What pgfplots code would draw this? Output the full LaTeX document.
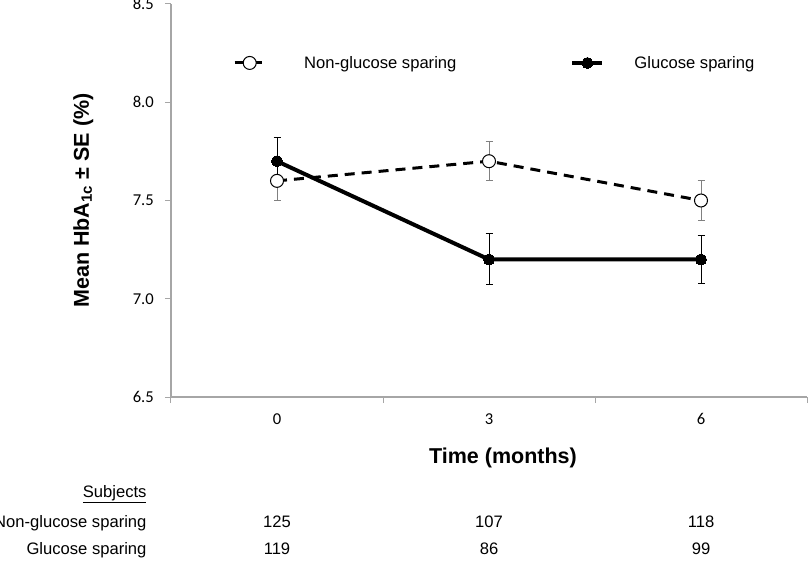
\documentclass[border=0pt]{standalone}
\usepackage{fontspec}
\setmainfont{Liberation Sans}
\newfontfamily\calibri{Carlito}
\usepackage{pgfplots}
\pgfplotsset{compat=1.18}
\definecolor{axisgray}{RGB}{166,166,166}
\definecolor{errgray}{RGB}{128,128,128}

\pgfplotstableread{
x y e
0 7.60 0.10
1 7.70 0.10
2 7.50 0.10
}\nongluc
\pgfplotstableread{
x y e
0 7.70 0.12
1 7.20 0.13
2 7.20 0.12
}\gluc

\begin{document}
\begin{tikzpicture}
\useasboundingbox (-171pt,-163pt) rectangle (639pt,397pt);
\begin{axis}[
  at={(0pt,0pt)}, anchor=south west,
  scale only axis, width=636pt, height=393pt,
  xmin=-0.5, xmax=2.5, ymin=6.5, ymax=8.5,
  clip=false,
  axis x line*=bottom, axis y line*=left,
  axis line style={axisgray, line width=1.3pt},
  every tick/.style={axisgray, line width=1pt},
  tick align=outside,
  major tick length=6pt,
  xtick={-0.5,0.5,1.5,2.5}, xticklabels={},
  extra x ticks={0,1,2}, extra x tick labels={0,3,6},
  extra x tick style={major tick length=0pt, xticklabel style={anchor=base, inner sep=0pt, yshift=-27pt}},
  ytick={6.5,7,7.5,8,8.5},
  yticklabel style={/pgf/number format/fixed, /pgf/number format/fixed zerofill, /pgf/number format/precision=1, anchor=east, inner sep=0pt, xshift=-11pt},
  ticklabel style={font=\calibri\fontsize{16.6}{20}\selectfont, text=black},
  /pgf/number format/assume math mode=true,
  ylabel={Mean HbA\textsubscript{1c} ± SE (\%)},
  ylabel style={at={(axis description cs:-0.138,0.5)}, anchor=center, font=\bfseries\fontsize{21.5}{25}\selectfont},
  xlabel={Time (months)},
  xlabel style={at={(axis description cs:0.522,-0.155)}, anchor=center, font=\bfseries\fontsize{21.5}{25}\selectfont},
  legend columns=2,
  legend cell align=left,
  legend image code/.code={\draw[mark repeat=2,mark phase=2,#1] plot coordinates {(0pt,0pt) (15pt,0pt) (30pt,0pt)};},
  legend style={draw=none, fill=none, at={(axis description cs:0.0975,0.85)}, anchor=west,
    font=\fontsize{16.6}{20}\selectfont, inner sep=0pt,
    nodes={inner sep=0pt},
    /tikz/column 1/.style={column sep=38pt},
    /tikz/column 2/.style={column sep=114pt},
    /tikz/column 3/.style={column sep=30pt}},
]
\addplot[black, line width=3pt, dash pattern=on 10pt off 7pt,
  mark=*, mark size=6.5pt, mark options={solid, fill=white, draw=black, line width=1pt},
  error bars/.cd, y dir=both, y explicit,
  error bar style={errgray, line width=1pt, solid},
  error mark options={rotate=90, errgray, mark size=3.5pt, line width=1pt, solid}]
  table[x=x, y=y, y error=e] {\nongluc};
\addlegendentry{Non-glucose sparing}
\addplot[black, line width=4pt,
  mark=*, mark size=5.5pt, mark options={solid, fill=black, draw=black, line width=0pt},
  error bars/.cd, y dir=both, y explicit,
  error bar style={black, line width=1pt, solid},
  error mark options={rotate=90, black, mark size=3.5pt, line width=1pt, solid}]
  table[x=x, y=y, y error=e] {\gluc};
\addlegendentry{Glucose sparing}

\node[anchor=base east, font=\fontsize{16.6}{20}\selectfont] at (axis cs:-0.599,5.991) {\underline{Subjects}};
\node[anchor=base east, font=\fontsize{16.6}{20}\selectfont] at (axis cs:-0.599,5.838) {Non-glucose sparing};
\node[anchor=base east, font=\fontsize{16.6}{20}\selectfont] at (axis cs:-0.599,5.696) {Glucose sparing};
\node[anchor=base, font=\fontsize{16.6}{20}\selectfont] at (axis cs:0,5.838) {125};
\node[anchor=base, font=\fontsize{16.6}{20}\selectfont] at (axis cs:1,5.838) {107};
\node[anchor=base, font=\fontsize{16.6}{20}\selectfont] at (axis cs:2,5.838) {118};
\node[anchor=base, font=\fontsize{16.6}{20}\selectfont] at (axis cs:0,5.696) {119};
\node[anchor=base, font=\fontsize{16.6}{20}\selectfont] at (axis cs:1,5.696) {86};
\node[anchor=base, font=\fontsize{16.6}{20}\selectfont] at (axis cs:2,5.696) {99};
\end{axis}
\end{tikzpicture}
\end{document}
